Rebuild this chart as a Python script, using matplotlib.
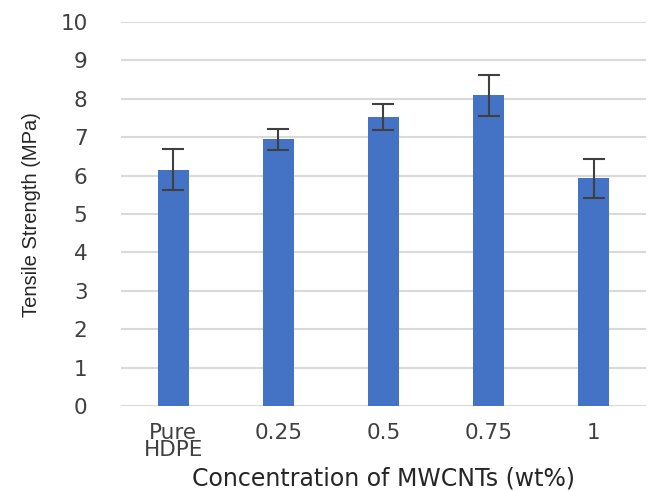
import matplotlib
matplotlib.use("Agg")
import matplotlib.pyplot as plt

categories = ["Pure\nHDPE", "0.25", "0.5", "0.75", "1"]
strength = [6.16, 6.95, 7.53, 8.09, 5.93]
errors = [0.54, 0.27, 0.34, 0.53, 0.51]
yticks = [0, 1, 2, 3, 4, 5, 6, 7, 8, 9, 10]

fig = plt.figure(figsize=(6.64, 4.91), dpi=100)
ax = fig.add_axes([0.182, 0.173, 0.791, 0.782])

x = range(len(categories))
ax.bar(x, strength, width=0.3, color="#4472C4", zorder=3,
       yerr=errors, capsize=8,
       error_kw=dict(ecolor="#404040", elinewidth=1.5, capthick=1.5, zorder=4))

ax.set_ylim(0, 10)
ax.set_xlim(-0.5, 4.5)
ax.set_yticks(yticks)
ax.set_yticklabels([str(v) for v in yticks], fontsize=15.5, color="#404040",
                   family="DejaVu Sans")
ax.set_xticks(list(x))
ax.set_xticklabels(categories, fontsize=15.5, color="#404040",
                   family="DejaVu Sans", linespacing=0.8)
ax.tick_params(axis="y", length=0, pad=24)
ax.tick_params(axis="x", length=0, pad=12)
ax.grid(axis="y", color="#d9d9d9", linewidth=1.5, zorder=0)
for s in ax.spines.values():
    s.set_visible(False)

ax.set_ylabel("Tensile Strength (MPa)", fontsize=14.5, family="Liberation Sans",
              color="#262626", labelpad=14)
ax.set_xlabel("Concentration of MWCNTs (wt%)", fontsize=17, family="DejaVu Sans",
              color="#262626", labelpad=5)

fig.savefig("out.png", dpi=100)
